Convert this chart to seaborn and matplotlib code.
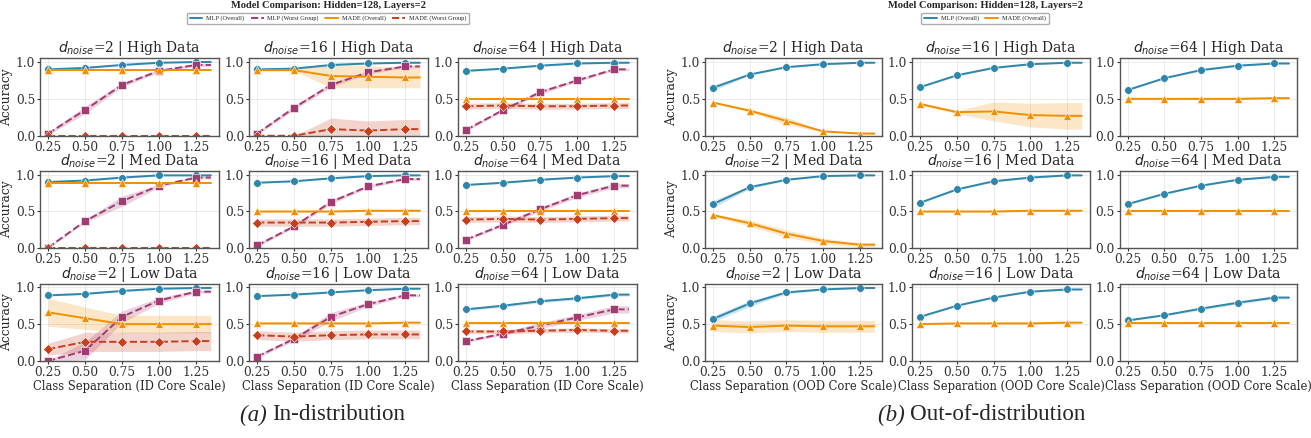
import numpy as np
import pandas as pd
import matplotlib
matplotlib.use("Agg")
import matplotlib.pyplot as plt
from matplotlib.lines import Line2D
import seaborn as sns

# ---------------- data ----------------
x_vals = [0.25, 0.50, 0.75, 1.00, 1.25, 1.35]
x_ticks = [0.25, 0.50, 0.75, 1.00, 1.25]
noise_dims = [2, 16, 64]
data_levels = ["High", "Med", "Low"]
series_labels_id = ["MLP (Overall)", "MLP (Worst Group)", "MADE (Overall)", "MADE (Worst Group)"]
series_labels_ood = ["MLP (Overall)", "MADE (Overall)"]
suptitle_text = "Model Comparison: Hidden=128, Layers=2"
xlabel_id = "Class Separation (ID Core Scale)"
xlabel_ood = "Class Separation (OOD Core Scale)"
caption_a = ("(a)", "In-distribution")
caption_b = ("(b)", "Out-of-distribution")

# panels ordered row by row: (High: d=2,16,64), (Med: ...), (Low: ...)
id_mlp_overall = [
    [0.90, 0.92, 0.96, 0.99, 1.00, 1.00],
    [0.90, 0.91, 0.96, 0.98, 0.99, 0.99],
    [0.88, 0.91, 0.95, 0.98, 0.99, 0.99],
    [0.90, 0.92, 0.96, 0.99, 0.99, 0.99],
    [0.89, 0.91, 0.95, 0.98, 0.99, 0.99],
    [0.86, 0.89, 0.93, 0.96, 0.98, 0.98],
    [0.89, 0.91, 0.95, 0.98, 0.99, 0.99],
    [0.88, 0.90, 0.93, 0.96, 0.98, 0.98],
    [0.70, 0.75, 0.81, 0.85, 0.90, 0.90],
]
id_mlp_worst = [
    [0.03, 0.35, 0.69, 0.88, 0.96, 0.96],
    [0.03, 0.38, 0.69, 0.86, 0.94, 0.94],
    [0.08, 0.35, 0.59, 0.75, 0.90, 0.90],
    [0.01, 0.37, 0.64, 0.85, 0.96, 0.96],
    [0.04, 0.30, 0.63, 0.84, 0.94, 0.94],
    [0.12, 0.32, 0.53, 0.72, 0.85, 0.85],
    [0.00, 0.14, 0.60, 0.82, 0.94, 0.94],
    [0.06, 0.30, 0.60, 0.77, 0.89, 0.89],
    [0.27, 0.37, 0.48, 0.59, 0.70, 0.70],
]
id_made_overall = [
    [0.89, 0.89, 0.89, 0.89, 0.89, 0.89],
    [0.89, 0.89, 0.81, 0.80, 0.79, 0.79],
    [0.50, 0.50, 0.50, 0.50, 0.50, 0.50],
    [0.89, 0.89, 0.89, 0.89, 0.89, 0.89],
    [0.50, 0.50, 0.50, 0.51, 0.51, 0.51],
    [0.50, 0.50, 0.50, 0.50, 0.50, 0.50],
    [0.66, 0.58, 0.50, 0.50, 0.50, 0.50],
    [0.51, 0.51, 0.51, 0.51, 0.52, 0.52],
    [0.51, 0.51, 0.51, 0.51, 0.51, 0.51],
]
id_made_worst = [
    [0.00, 0.00, 0.00, 0.00, 0.00, 0.00],
    [0.00, 0.00, 0.09, 0.07, 0.09, 0.09],
    [0.40, 0.41, 0.40, 0.40, 0.41, 0.41],
    [0.00, 0.00, 0.00, 0.00, 0.00, 0.00],
    [0.35, 0.35, 0.35, 0.36, 0.37, 0.37],
    [0.39, 0.40, 0.39, 0.40, 0.41, 0.41],
    [0.16, 0.26, 0.26, 0.26, 0.27, 0.27],
    [0.35, 0.33, 0.35, 0.36, 0.36, 0.36],
    [0.40, 0.40, 0.41, 0.42, 0.41, 0.41],
]
# half-widths of the shaded bands
id_mlp_overall_band = [
    [0.01] * 6, [0.01] * 6, [0.01] * 6,
    [0.01] * 6, [0.01] * 6, [0.01] * 6,
    [0.01] * 6, [0.01] * 6, [0.02] * 6,
]
id_mlp_worst_band = [
    [0.02, 0.05, 0.03, 0.02, 0.02, 0.02],
    [0.02, 0.03, 0.03, 0.02, 0.02, 0.02],
    [0.02, 0.02, 0.03, 0.02, 0.02, 0.02],
    [0.01, 0.02, 0.07, 0.02, 0.02, 0.02],
    [0.02, 0.02, 0.03, 0.02, 0.02, 0.02],
    [0.02, 0.02, 0.03, 0.03, 0.03, 0.03],
    [0.01, 0.12, 0.08, 0.04, 0.02, 0.02],
    [0.02, 0.03, 0.06, 0.03, 0.02, 0.02],
    [0.02, 0.02, 0.04, 0.04, 0.05, 0.05],
]
id_made_overall_band = [
    [0.01] * 6,
    [0.01, 0.01, 0.16, 0.15, 0.14, 0.14],
    [0.01] * 6,
    [0.01] * 6, [0.01] * 6, [0.01] * 6,
    [0.19, 0.15, 0.12, 0.12, 0.12, 0.12],
    [0.01] * 6, [0.01] * 6,
]
id_made_worst_band = [
    [0.00] * 6,
    [0.00, 0.00, 0.15, 0.13, 0.13, 0.13],
    [0.04] * 6,
    [0.00] * 6,
    [0.05] * 6,
    [0.04] * 6,
    [0.08, 0.13, 0.13, 0.13, 0.13, 0.13],
    [0.06] * 6,
    [0.03] * 6,
]

ood_mlp_overall = [
    [0.65, 0.83, 0.93, 0.97, 0.99, 0.99],
    [0.66, 0.82, 0.92, 0.97, 0.99, 0.99],
    [0.62, 0.78, 0.89, 0.95, 0.98, 0.98],
    [0.60, 0.83, 0.93, 0.98, 0.99, 0.99],
    [0.62, 0.80, 0.91, 0.96, 0.99, 0.99],
    [0.60, 0.74, 0.85, 0.93, 0.97, 0.97],
    [0.57, 0.78, 0.93, 0.97, 0.99, 0.99],
    [0.60, 0.75, 0.86, 0.94, 0.97, 0.97],
    [0.55, 0.62, 0.71, 0.79, 0.86, 0.86],
]
ood_made_overall = [
    [0.45, 0.34, 0.20, 0.06, 0.03, 0.03],
    [0.43, 0.32, 0.33, 0.28, 0.27, 0.27],
    [0.50, 0.50, 0.50, 0.50, 0.51, 0.51],
    [0.45, 0.34, 0.20, 0.10, 0.05, 0.05],
    [0.50, 0.50, 0.50, 0.51, 0.51, 0.51],
    [0.51, 0.51, 0.51, 0.51, 0.51, 0.51],
    [0.48, 0.46, 0.48, 0.47, 0.47, 0.47],
    [0.50, 0.51, 0.51, 0.51, 0.52, 0.52],
    [0.51, 0.51, 0.51, 0.51, 0.51, 0.51],
]
ood_mlp_overall_band = [
    [0.04, 0.01, 0.01, 0.01, 0.01, 0.01],
    [0.01] * 6, [0.01] * 6,
    [0.05, 0.02, 0.01, 0.01, 0.01, 0.01],
    [0.01] * 6, [0.01] * 6,
    [0.04, 0.04, 0.02, 0.01, 0.01, 0.01],
    [0.01] * 6,
    [0.01, 0.01, 0.02, 0.02, 0.02, 0.02],
]
ood_made_overall_band = [
    [0.01, 0.02, 0.05, 0.01, 0.01, 0.01],
    [0.02, 0.02, 0.13, 0.16, 0.18, 0.18],
    [0.01] * 6,
    [0.02, 0.04, 0.05, 0.04, 0.03, 0.03],
    [0.01] * 6, [0.01] * 6,
    [0.08] * 6,
    [0.01] * 6, [0.01] * 6,
]

# ---------------- style ----------------
C_BLUE, C_PURPLE, C_ORANGE, C_RED = "#2E86AB", "#A23B72", "#F18F01", "#C73E1D"

sns.set_theme(style="whitegrid")
plt.rcParams.update({
    "font.family": ["DejaVu Serif"],
    "axes.edgecolor": "#555555",
    "axes.linewidth": 1.0,
    "grid.color": "#e8e8e8",
    "grid.linewidth": 0.6,
    "xtick.bottom": True,
    "ytick.left": True,
    "xtick.major.size": 2.5,
    "ytick.major.size": 2.5,
    "xtick.major.width": 0.8,
    "ytick.major.width": 0.8,
    "xtick.color": "#333333",
    "ytick.color": "#333333",
    "xtick.labelsize": 8.8,
    "ytick.labelsize": 8.8,
})

W, H = 1311, 438
fig = plt.figure(figsize=(W / 100, H / 100), dpi=100)


def draw_series(ax, y, band, color, ls, marker):
    y = np.asarray(y, dtype=float)
    band = np.asarray(band, dtype=float)
    df = pd.DataFrame({"x": x_vals, "y": y})
    sns.lineplot(data=df, x="x", y="y", ax=ax, color=color, linestyle=ls,
                 marker=marker, markevery=list(range(5)), markersize=5.5,
                 linewidth=1.4, markeredgewidth=0.4, legend=False)
    ax.fill_between(x_vals, y - band, y + band, color=color, alpha=0.22,
                    linewidth=0)


def make_grid(left_px, right_px, series_sets, xlabel):
    gs = fig.add_gridspec(3, 3, left=left_px / W, right=right_px / W,
                          top=1 - 58.3 / H, bottom=1 - 361 / H,
                          wspace=0.168, hspace=0.454)
    for r in range(3):
        for c in range(3):
            k = r * 3 + c
            ax = fig.add_subplot(gs[r, c])
            for vals, bands, color, ls, mk in series_sets:
                draw_series(ax, vals[k], bands[k], color, ls, mk)
            ax.set_ylim(0, 1.05)
            ax.set_yticks([0.0, 0.5, 1.0])
            ax.set_xticks(x_ticks)
            ax.set_xticklabels([f"{t:.2f}" for t in x_ticks])
            ax.set_title(rf"$d_{{noise}}$={noise_dims[c]} | {data_levels[r]} Data",
                         fontsize=10, pad=3)
            ax.set_ylabel("Accuracy" if c == 0 else "", fontsize=8.8, labelpad=2)
            ax.set_xlabel(xlabel if r == 2 else "", fontsize=8.3, labelpad=1)
            ax.tick_params(axis="both", pad=1)
            for s in ax.spines.values():
                s.set_visible(True)


make_grid(40, 637, [
    (id_mlp_overall, id_mlp_overall_band, C_BLUE, "-", "o"),
    (id_mlp_worst, id_mlp_worst_band, C_PURPLE, "--", "s"),
    (id_made_overall, id_made_overall_band, C_ORANGE, "-", "^"),
    (id_made_worst, id_made_worst_band, C_RED, "--", "D"),
], xlabel_id)

make_grid(705, 1297, [
    (ood_mlp_overall, ood_mlp_overall_band, C_BLUE, "-", "o"),
    (ood_made_overall, ood_made_overall_band, C_ORANGE, "-", "^"),
], xlabel_ood)

# suptitles and legends
for cx, lbls, styles in [
    (328, series_labels_id, [(C_BLUE, "-"), (C_PURPLE, "--"), (C_ORANGE, "-"), (C_RED, "--")]),
    (985, series_labels_ood, [(C_BLUE, "-"), (C_ORANGE, "-")]),
]:
    fig.text(cx / W, 1 - 6 / H, suptitle_text, ha="center", va="center",
             fontsize=7.6, fontweight="bold", family="Liberation Serif")
    handles = [Line2D([0], [0], color=col, linestyle=ls, linewidth=1.4) for col, ls in styles]
    fig.legend(handles, lbls, loc="center", bbox_to_anchor=(cx / W, 1 - 18.5 / H),
               ncol=len(lbls), frameon=True, handlelength=2.0, handletextpad=0.6,
               columnspacing=1.0, borderpad=0.45, edgecolor="#999999", fancybox=True,
               prop={"family": "Liberation Serif", "size": 4.6})

# captions
for split_px, (lab, txt) in [(272, caption_a), (910, caption_b)]:
    fig.text(split_px / W, 1 - 415 / H, lab + " ", ha="right", va="center",
             fontsize=16.6, style="italic", family="Liberation Serif")
    fig.text(split_px / W, 1 - 415 / H, txt, ha="left", va="center",
             fontsize=16.6, family="Liberation Serif")

fig.savefig("out.png", dpi=100)
